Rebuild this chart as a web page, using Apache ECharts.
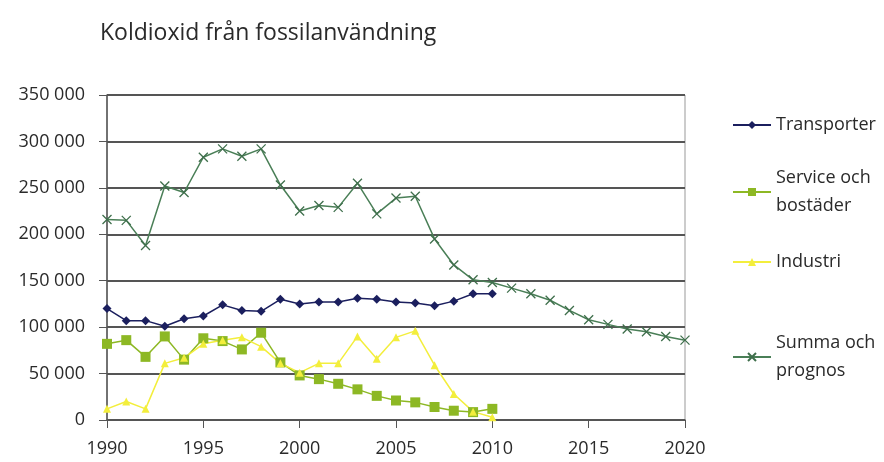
<!DOCTYPE html>
<html><head><meta charset="utf-8">
<script src="https://cdn.jsdelivr.net/npm/echarts@6/dist/echarts.min.js"></script>
<style>html,body{margin:0;padding:0;background:#fff}#c{width:884px;height:462px}</style>
</head><body><div id="c"></div>
<script>
const title = 'Koldioxid från fossilanvändning';
const histYears = [1990,1991,1992,1993,1994,1995,1996,1997,1998,1999,2000,2001,2002,2003,2004,2005,2006,2007,2008,2009,2010];
const allYears = [1990,1991,1992,1993,1994,1995,1996,1997,1998,1999,2000,2001,2002,2003,2004,2005,2006,2007,2008,2009,2010,2011,2012,2013,2014,2015,2016,2017,2018,2019,2020];
const transporter = [120000,107000,107000,101000,109000,112000,124000,118000,117000,130000,125000,127000,127000,131000,130000,127000,126000,123000,128000,136000,136000];
const service = [82000,86000,68000,90000,65000,88000,85000,76000,94000,62000,48000,44000,39000,33000,26000,21000,19000,14000,10000,8500,12000];
const industri = [12000,20000,12000,61000,67000,82000,86000,89000,79000,61000,51000,61000,61000,90000,66000,89000,96000,59000,28000,9000,3000];
const summa = [216000,215000,188000,252000,245000,283000,292000,284000,292000,253000,225000,231000,229000,255000,222000,239000,241000,195000,167000,151000,148000,142000,136000,129000,118000,108000,103000,98000,95000,90000,86000];
const names = ['Transporter','Service och\nbostäder','Industri','Summa och\nprognos'];

const pair = (xs, ys) => ys.map((v,i)=>[xs[i], v]);
const fmt = v => String(v).replace(/\B(?=(\d{3})+(?!\d))/g,' ');
const font = 'Open Sans';
const chart = echarts.init(document.getElementById('c'));
const legendBase = (name, top) => ({
  data:[name], orient:'vertical', left:727, top:top, itemWidth:38, itemHeight:10, itemGap:0,
  textStyle:{fontFamily:font, fontSize:18, color:'#2a2a2a', lineHeight:28}, selectedMode:false
});
chart.setOption({
  animation:false,
  title:{text:title, left:95, top:17, textStyle:{fontFamily:font, fontSize:23, fontWeight:'normal', color:'#2a2a2a'}},
  grid:{left:107, right:199, top:95, bottom:42, show:true, borderColor:'#999', borderWidth:1},
  legend:[legendBase(names[0],106), legendBase(names[1],159), legendBase(names[2],243), legendBase(names[3],324)],
  xAxis:{type:'value', min:1990, max:2020, interval:5,
    axisLine:{show:true, lineStyle:{color:'#555', width:1.5}},
    axisTick:{show:true, length:8, lineStyle:{color:'#555'}},
    axisLabel:{fontFamily:font, fontSize:18, color:'#2a2a2a', margin:20, formatter:v=>String(v)},
    splitLine:{show:false}},
  yAxis:{type:'value', min:0, max:350000, interval:50000,
    axisLine:{show:true, lineStyle:{color:'#555', width:1.5}},
    axisTick:{show:true, inside:false, length:8, lineStyle:{color:'#555'}},
    axisLabel:{fontFamily:font, fontSize:18, color:'#2a2a2a', margin:22, formatter:fmt},
    splitLine:{show:true, lineStyle:{color:'#555', width:2}}},
  series:[
    {name:names[0], type:'line', data:pair(histYears, transporter), symbol:'diamond', symbolSize:9,
      lineStyle:{color:'#1b1f5e', width:1.5}, itemStyle:{color:'#1b1f5e'}},
    {name:names[1], type:'line', data:pair(histYears, service), symbol:'rect', symbolSize:10,
      lineStyle:{color:'#8db824', width:1.5}, itemStyle:{color:'#8db824'}},
    {name:names[2], type:'line', data:pair(histYears, industri), symbol:'triangle', symbolSize:8,
      lineStyle:{color:'#f3ee3c', width:1.5}, itemStyle:{color:'#f3ee3c'}},
    {name:names[3], type:'line', data:pair(allYears, summa), symbol:'path://M0,0L10,10M10,0L0,10', symbolSize:9,
      lineStyle:{color:'#4a7f57', width:1.5}, itemStyle:{color:'rgba(0,0,0,0)', borderColor:'#3f6f4c', borderWidth:1.3}}
  ]
});
</script></body></html>
